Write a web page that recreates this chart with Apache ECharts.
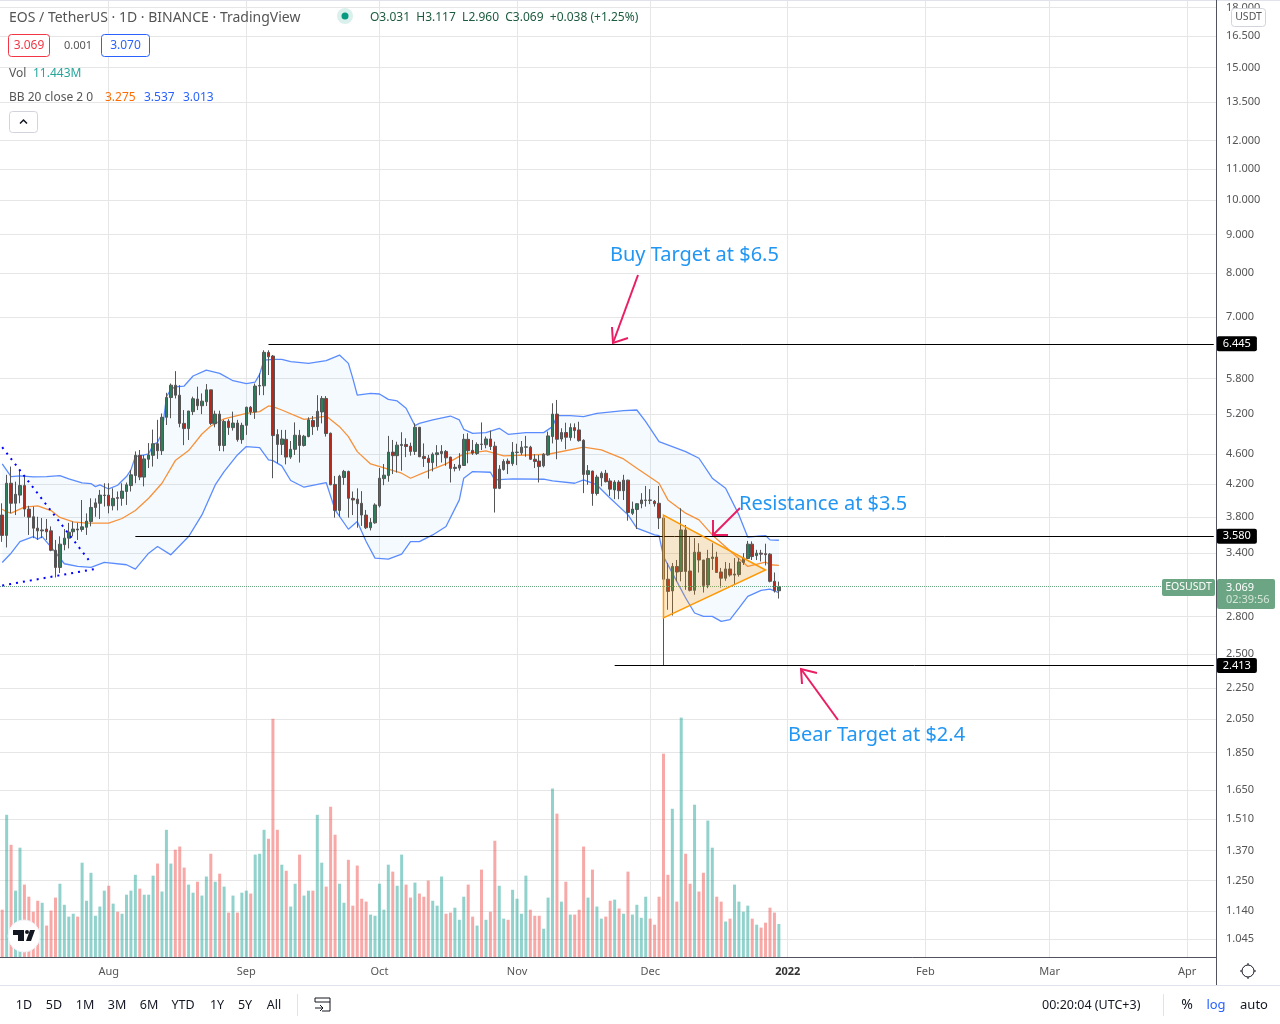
<!DOCTYPE html>
<html>
<head>
<meta charset="utf-8">
<title>EOS / TetherUS</title>
<style>
  html, body { margin: 0; padding: 0; background: #fff; }
  #main { width: 1280px; height: 1024px; }
</style>
<script src="https://cdn.jsdelivr.net/npm/echarts@6/dist/echarts.min.js"></script>
</head>
<body>
<div id="main"></div>
<script>
// candles, one per day from 2021-07-08
const opens = [3.82,3.59,4.21,3.96,4.06,4.18,3.89,3.80,3.67,3.64,
  3.66,3.64,3.43,3.255,3.49,3.56,3.63,3.66,3.655,3.68,
  3.745,3.91,3.96,4.055,4.06,3.93,4.03,4.02,4.105,4.18,
  4.31,4.585,4.29,4.53,4.585,4.75,4.65,5.15,5.47,5.68,
  5.51,5.055,4.975,5.24,5.445,5.335,5.40,5.60,5.05,5.20,
  4.725,5.09,4.99,5.06,4.81,5.025,5.31,5.235,5.665,5.67,
  6.28,6.21,4.885,4.74,4.815,4.56,4.67,4.875,4.725,4.855,
  5.10,5.005,5.235,5.455,4.905,4.195,3.875,4.285,4.365,4.02,
  4.01,3.96,3.82,3.675,3.73,3.93,4.27,4.31,4.63,4.58,
  4.725,4.74,4.715,4.64,4.995,4.57,4.545,4.485,4.595,4.61,
  4.64,4.56,4.405,4.41,4.445,4.815,4.655,4.61,4.745,4.735,
  4.82,4.715,4.145,4.39,4.505,4.47,4.625,4.62,4.70,4.70,
  4.53,4.505,4.44,4.59,4.855,5.20,4.82,4.915,4.84,4.99,
  4.955,4.80,4.325,4.37,4.08,4.28,4.34,4.24,4.125,4.225,
  4.115,4.25,3.84,3.885,3.955,3.995,4.00,3.985,3.96,3.785,
  3.14,3.03,3.265,3.215,3.65,3.22,3.035,3.41,3.33,3.085,
  3.345,3.36,3.21,3.15,3.24,3.18,3.185,3.305,3.345,3.495,
  3.375,3.40,3.395,3.39,3.12,3.031]
const closes = [3.59,4.21,3.96,4.07,4.18,3.89,3.795,3.67,3.64,3.65,
  3.63,3.43,3.255,3.495,3.56,3.625,3.66,3.65,3.685,3.75,
  3.91,3.965,4.06,4.06,3.93,4.02,4.02,4.11,4.19,4.32,
  4.585,4.29,4.535,4.59,4.75,4.65,5.15,5.47,5.68,5.51,
  5.055,4.975,5.25,5.45,5.335,5.41,5.60,5.055,5.20,4.725,
  5.085,4.99,5.06,4.81,5.025,5.31,5.235,5.665,5.675,6.28,
  6.195,4.87,4.74,4.82,4.56,4.67,4.875,4.725,4.86,5.11,
  5.005,5.245,5.455,4.90,4.19,3.875,4.30,4.365,4.02,4.00,
  3.955,3.82,3.675,3.735,3.94,4.275,4.315,4.63,4.58,4.73,
  4.74,4.71,4.64,4.995,4.565,4.54,4.485,4.60,4.62,4.64,
  4.55,4.405,4.42,4.45,4.815,4.65,4.615,4.74,4.74,4.82,
  4.71,4.145,4.395,4.50,4.47,4.63,4.63,4.70,4.705,4.53,
  4.50,4.43,4.60,4.865,5.20,4.815,4.915,4.845,4.99,4.945,
  4.795,4.325,4.375,4.08,4.29,4.34,4.23,4.135,4.225,4.115,
  4.25,3.85,3.89,3.955,4.00,4.00,3.995,3.955,3.785,3.14,
  3.025,3.265,3.21,3.65,3.215,3.035,3.41,3.33,3.08,3.345,
  3.36,3.205,3.15,3.24,3.18,3.19,3.31,3.35,3.495,3.365,
  3.40,3.39,3.385,3.12,3.031,3.069]
const highs = [3.96,4.32,4.43,4.23,4.37,4.30,3.93,3.92,3.80,3.785,
  3.775,3.69,3.54,3.58,3.66,3.73,3.745,3.73,4.00,3.84,
  4.02,4.02,4.125,4.21,4.21,4.145,4.105,4.21,4.22,4.385,
  4.64,4.66,4.59,4.76,4.96,5.11,5.21,5.55,5.71,5.93,
  5.68,5.265,5.25,5.485,5.655,5.54,5.70,5.60,5.255,5.255,
  5.11,5.12,5.24,5.11,5.065,5.32,5.33,5.71,5.89,6.32,
  6.32,6.23,4.965,4.955,4.955,4.79,5.07,4.955,4.88,5.15,
  5.17,5.51,5.495,5.495,4.915,4.305,4.32,4.385,4.375,4.105,
  4.145,4.11,3.88,3.785,3.96,4.41,4.465,4.865,4.805,4.78,
  4.92,4.83,4.765,5.055,5.00,4.755,4.59,4.625,4.73,4.73,
  4.66,4.565,4.465,4.615,4.895,4.905,4.805,4.77,5.07,4.855,
  4.945,4.78,4.45,4.53,4.54,4.775,4.75,4.79,4.865,4.72,
  4.60,4.59,4.615,4.93,5.375,5.43,4.98,5.065,5.055,5.055,
  5.08,4.815,4.45,4.375,4.32,4.365,4.385,4.275,4.25,4.25,
  4.32,4.255,3.98,3.96,4.085,4.175,4.135,4.00,4.175,3.785,
  3.30,3.30,3.33,3.90,3.705,3.58,3.56,3.505,3.33,3.435,
  3.505,3.415,3.25,3.31,3.30,3.35,3.35,3.40,3.53,3.525,
  3.435,3.435,3.50,3.40,3.205,3.117]
const lows = [3.52,3.46,3.84,3.82,3.96,3.80,3.595,3.56,3.54,3.56,
  3.54,3.42,3.157,3.20,3.43,3.45,3.58,3.54,3.63,3.595,
  3.69,3.80,3.775,3.92,3.84,3.875,3.875,3.93,3.94,4.105,
  4.21,4.25,4.17,4.41,4.43,4.535,4.59,5.03,5.135,5.455,
  4.995,4.73,4.805,5.185,5.265,5.20,5.33,5.03,4.995,4.645,
  4.64,4.88,4.945,4.78,4.75,4.88,5.185,5.125,5.51,5.51,
  5.86,4.275,4.475,4.59,4.46,4.535,4.59,4.485,4.71,4.845,
  4.88,4.945,5.055,4.855,4.185,3.79,3.80,4.19,3.79,3.82,
  3.675,3.695,3.66,3.645,3.72,3.91,4.185,4.23,4.33,4.35,
  4.375,4.56,4.58,4.59,4.56,4.425,4.27,4.365,4.43,4.485,
  4.44,4.22,4.365,4.375,4.44,4.475,4.59,4.59,4.66,4.685,
  4.66,3.85,4.135,4.375,4.33,4.44,4.45,4.59,4.565,4.52,
  4.41,4.22,4.42,4.58,4.755,4.53,4.78,4.67,4.795,4.83,
  4.78,4.085,4.19,3.93,4.055,4.17,4.22,4.05,4.01,4.01,
  4.00,3.755,3.82,3.66,3.90,3.92,3.95,3.92,3.66,2.413,
  2.86,2.81,3.12,3.12,3.04,3.025,2.995,3.205,3.015,3.055,
  3.23,3.20,3.06,3.125,3.165,3.085,3.165,3.28,3.34,3.33,
  3.33,3.315,3.275,3.11,3.015,2.96]

// volume in millions
const volumes = [16.4,49.3,38.9,23.0,37.9,25.1,20.9,15.7,19.5,18.8,
  10.9,16.1,20.6,25.4,18.1,14.0,15.0,14.0,32.7,19.5,
  29.2,14.3,17.5,23.0,24.7,18.5,15.7,15.0,21.6,23.0,
  28.5,23.7,21.6,21.6,28.2,32.4,22.7,44.1,32.4,37.2,
  38.3,31.0,25.1,22.3,26.1,21.3,27.9,35.8,26.1,28.9,
  24.4,15.4,21.3,15.4,22.3,23.0,22.0,35.5,35.8,44.1,
  41.0,82.6,44.1,32.0,29.9,17.5,25.4,35.5,21.3,23.0,
  23.0,49.3,32.7,24.4,52.1,42.4,25.4,18.8,33.7,17.8,
  31.7,20.2,19.2,14.7,14.3,25.4,16.4,32.0,29.6,24.7,
  35.5,25.1,20.6,25.8,22.0,20.9,26.5,19.5,17.8,27.9,
  15.0,15.4,17.1,12.9,20.9,25.1,14.0,10.9,30.3,12.9,
  15.7,40.3,24.7,13.3,12.9,23.3,20.2,15.0,28.2,16.4,
  14.3,14.3,9.8,20.6,58.4,49.7,19.2,26.1,14.7,14.7,
  16.4,38.3,20.6,30.3,17.5,13.3,14.0,19.5,19.9,16.8,
  15.0,29.6,14.7,18.1,13.6,20.9,13.3,11.2,20.9,70.5,
  28.5,51.4,19.2,83.0,35.8,25.4,52.8,22.7,29.2,47.3,
  37.9,20.9,19.2,12.3,13.3,25.1,19.2,15.7,17.8,13.3,
  11.2,10.2,11.9,17.1,15.4,11.443]

// bollinger bands, read at these day indexes
const upperDays = [0,2,4,7,10,13,15,18,20,21,22,24,26,28,29,30,32,33,34,35,36,37,38,39,41,43,46,49,52,55,57,58,59,61,63,65,69,73,76,78,79,80,83,85,87,89,91,93,94,97,101,103,104,106,109,112,114,118,122,124,125,128,131,134,140,143,145,148,151,154,157,160,163,166,168,171,172,173,175]
const upperBand = [4.466,4.297,4.306,4.293,4.297,4.31,4.266,4.214,4.206,4.167,4.188,4.137,4.184,4.297,4.385,4.567,4.59,4.605,4.733,4.771,4.904,5.484,5.608,5.654,5.666,5.842,5.949,5.889,5.759,5.706,5.736,5.871,6.134,6.146,6.146,6.103,6.072,6.122,6.228,6.072,5.80,5.512,5.541,5.53,5.44,5.413,5.293,5.02,5.056,5.108,5.17,5.108,4.964,4.904,4.914,4.98,4.889,4.914,4.914,5.005,5.176,5.176,5.16,5.213,5.255,5.266,5.082,4.781,4.709,4.637,4.544,4.275,4.146,3.822,3.57,3.584,3.588,3.541,3.537]
const lowerDays = [0,2,4,7,8,9,11,12,14,17,20,23,28,30,33,35,38,42,45,48,50,53,55,58,60,61,63,65,68,73,75,78,80,82,84,87,90,92,94,97,100,103,104,106,110,111,115,122,124,129,131,134,137,141,143,147,148,149,151,154,156,158,160,162,164,166,168,171,173,175]
const lowerBand = [3.305,3.40,3.523,3.577,3.548,3.577,3.463,3.407,3.292,3.265,3.255,3.305,3.282,3.239,3.40,3.47,3.383,3.577,3.822,4.188,4.363,4.59,4.709,4.695,4.521,4.512,4.439,4.245,4.159,4.219,3.881,3.658,3.745,3.523,3.349,3.339,3.39,3.523,3.523,3.595,3.688,4.001,4.275,4.363,4.354,4.253,4.266,4.262,4.24,4.21,4.253,4.188,4.022,3.822,3.67,3.595,3.588,3.366,3.199,2.965,2.832,2.803,2.803,2.76,2.775,2.875,2.98,3.035,3.047,3.013]
const basisDays = [0,1,2,5,8,11,13,16,19,24,27,30,33,36,39,42,45,47,50,55,58,60,61,63,68,73,76,78,80,83,90,92,95,100,104,109,113,123,131,135,140,143,148,150,154,157,160,165,168,172,173,175]
const basisBand = [3.889,3.858,3.842,3.913,3.929,3.873,3.792,3.741,3.726,3.726,3.78,3.873,4.022,4.21,4.512,4.652,4.894,5.015,5.124,5.213,5.24,5.331,5.32,5.266,5.118,5.17,5.005,4.854,4.637,4.466,4.341,4.275,4.35,4.466,4.605,4.647,4.576,4.6,4.70,4.661,4.535,4.407,4.21,4.001,3.842,3.764,3.595,3.383,3.265,3.309,3.282,3.275]

// price axis labels and month labels
const priceTicks = [18,16.5,15,13.5,12,11,10,9,8,7,5.8,5.2,4.6,4.2,3.8,3.4,2.8,2.5,2.25,2.05,1.85,1.65,1.51,1.37,1.25,1.14,1.045]
const tickDates = ['2021-08-01','2021-09-01','2021-10-01','2021-11-01','2021-12-01','2022-01-01','2022-02-01','2022-03-01','2022-04-01']
const tickLabels = ['Aug','Sep','Oct','Nov','Dec','2022','Feb','Mar','Apr']

// drawings on the chart
const triangleDays = [149,172,149]
const trianglePrices = [3.82,3.23,2.79]
const trendDown = [[0,4.70],[20,3.30]]
const trendUp = [[0,3.08],[21,3.24]]
const levels = [[60,6.445],[30,3.58],[138,2.413]]
const lastClose = 3.069

const DAY_COUNT = 274
const categories = []
for (let i = 0; i < DAY_COUNT; i++) {
  categories.push(new Date(Date.UTC(2021, 6, 8 + i)).toISOString().slice(0, 10))
}
const isMonthTick = function(index, value) {
  return tickDates.indexOf(value) !== -1
}

const FONT = '"Noto Sans"'
const text = function(x, y, str, fill, size, align, weight) {
  return {
    type: 'text', z: 50, silent: true,
    style: { x: x, y: y, text: str, fill: fill, align: align || 'left', verticalAlign: 'middle',
      font: (weight || 'normal') + ' ' + size + 'px ' + FONT }
  }
}
const box = function(x, y, w, h, fill, stroke, r) {
  return {
    type: 'rect', z: 49, silent: true,
    shape: { x: x, y: y, width: w, height: h, r: r || 0 },
    style: { fill: fill, stroke: stroke || null, lineWidth: 1 }
  }
}
const stroke = function(points, color, width) {
  return {
    type: 'polyline', z: 49, silent: true,
    shape: { points: points },
    style: { stroke: color, lineWidth: width || 1, fill: null }
  }
}

const BLUE = '#2196f3'
const PINK = '#e91e63'
const graphics = [
  box(0, 0, 1280, 1, '#e0e3eb'),
  // header
  text(9, 18, 'EOS / TetherUS · 1D · BINANCE · TradingView', '#555', 14),
  { type: 'circle', z: 49, silent: true, shape: { cx: 345, cy: 16, r: 8 }, style: { fill: 'rgba(8,153,129,.15)' } },
  { type: 'circle', z: 50, silent: true, shape: { cx: 345, cy: 16, r: 3.5 }, style: { fill: '#089981' } },
  text(370, 18, 'O3.031  H3.117  L2.960  C3.069  +0.038 (+1.25%)', '#1c5b3e', 12),
  box(8.5, 34.5, 41, 22, '#fff', '#f23645', 3),
  text(29, 45.5, '3.069', '#f23645', 12, 'center'),
  text(78, 45.5, '0.001', '#555', 11, 'center'),
  box(101.5, 34.5, 48, 22, '#fff', '#2962ff', 3),
  text(125.5, 45.5, '3.070', '#2962ff', 12, 'center'),
  text(9, 74, 'Vol', '#555', 12),
  text(33, 74, '11.443M', '#26a69a', 12),
  text(9, 98, 'BB 20 close 2 0', '#555', 12),
  text(105, 98, '3.275', '#ff6d00', 12),
  text(144, 98, '3.537', '#2962ff', 12),
  text(183, 98, '3.013', '#2962ff', 12),
  box(9.5, 111.5, 28, 21, '#fff', '#d1d4dc', 3),
  stroke([[20, 123.5], [23.5, 120], [27, 123.5]], '#131722', 1.5),
  // price axis extras
  box(1231.5, 8.5, 34, 18, '#fff', '#d1d4dc', 3),
  text(1248.5, 17.5, 'USDT', '#555', 10.5, 'center'),
  box(1162, 579, 53, 17, '#6ba583', null, 2),
  text(1188.5, 587.5, 'EOSUSDT', '#fff', 10.5, 'center'),
  box(1217, 579, 58, 30, '#6ba583', null, 2),
  text(1226, 587.5, '3.069', '#fff', 11),
  text(1226, 600, '02:39:56', '#d5e6da', 11),
  // annotations
  text(610, 255, 'Buy Target at $6.5', BLUE, 20),
  text(739, 504, 'Resistance at $3.5', BLUE, 20),
  text(788, 735, 'Bear Target at $2.4', BLUE, 20),
  stroke([[638, 275], [613, 343]], PINK, 2),
  stroke([[612, 327], [613, 343], [628, 338]], PINK, 2),
  stroke([[740, 508], [713, 535]], PINK, 2),
  stroke([[713, 520], [713, 535], [728, 535]], PINK, 2),
  stroke([[838, 720], [801, 669]], PINK, 2),
  stroke([[802, 684], [801, 669], [817, 673]], PINK, 2),
  // tradingview badge
  { type: 'circle', z: 49, silent: true, shape: { cx: 24, cy: 936, r: 16 }, style: { fill: '#fff', stroke: '#f0f3fa' } },
  { type: 'polygon', z: 50, silent: true, shape: { points: [[13, 930], [24, 930], [24, 941], [18, 941], [18, 935], [13, 935]] }, style: { fill: '#131722' } },
  { type: 'circle', z: 50, silent: true, shape: { cx: 27, cy: 932, r: 2 }, style: { fill: '#131722' } },
  { type: 'polygon', z: 50, silent: true, shape: { points: [[30, 930], [35, 930], [31, 941], [26, 941]] }, style: { fill: '#131722' } },
  // bottom bar
  box(0, 985, 1280, 1, '#e0e3eb'),
  box(1216, 0, 1, 985, '#50535e'),
  box(297, 994, 1, 22, '#e0e3eb'),
  box(1163, 994, 1, 22, '#e0e3eb'),
  text(24, 1005, '1D', '#131722', 12.5, 'center'),
  text(54, 1005, '5D', '#131722', 12.5, 'center'),
  text(85, 1005, '1M', '#131722', 12.5, 'center'),
  text(117, 1005, '3M', '#131722', 12.5, 'center'),
  text(149, 1005, '6M', '#131722', 12.5, 'center'),
  text(183, 1005, 'YTD', '#131722', 12.5, 'center'),
  text(217, 1005, '1Y', '#131722', 12.5, 'center'),
  text(245, 1005, '5Y', '#131722', 12.5, 'center'),
  text(274, 1005, 'All', '#131722', 12.5, 'center'),
  stroke([[315, 1002], [315, 998], [330, 998], [330, 1011], [322, 1011]], '#131722', 1),
  stroke([[315, 1002], [330, 1002]], '#131722', 1),
  stroke([[315, 1008], [322, 1008]], '#131722', 1),
  stroke([[320, 1005], [323, 1008], [320, 1011]], '#131722', 1),
  text(1042, 1005, '00:20:04 (UTC+3)', '#131722', 12.5),
  text(1187, 1005, '%', '#131722', 14, 'center'),
  text(1216, 1005, 'log', '#2962ff', 13, 'center'),
  text(1254, 1005, 'auto', '#131722', 13, 'center'),
  { type: 'circle', z: 49, silent: true, shape: { cx: 1248, cy: 971, r: 6 }, style: { fill: '#fff', stroke: '#131722', lineWidth: 1 } },
  stroke([[1248, 963], [1248, 965]], '#131722', 1),
  stroke([[1248, 977], [1248, 979]], '#131722', 1),
  stroke([[1240, 971], [1242, 971]], '#131722', 1),
  stroke([[1254, 971], [1256, 971]], '#131722', 1)
]

const candleData = opens.map(function(o, i) {
  return [o, closes[i], lows[i], highs[i]]
})
const volumeData = volumes.map(function(v, i) {
  return {
    value: v,
    itemStyle: { color: closes[i] >= opens[i] ? 'rgba(38,166,154,.5)' : 'rgba(239,83,80,.5)' }
  }
})
const pairs = function(days, values) {
  return days.map(function(d, i) { return [categories[d], values[i]] })
}
const bandLine = function(name, days, values, color) {
  return {
    name: name, type: 'line', data: pairs(days, values), symbol: 'none', z: 3,
    lineStyle: { color: color, width: 1.3 }
  }
}
const levelLine = function(level) {
  return [
    { xAxis: categories[level[0]], yAxis: level[1] },
    {
      xAxis: categories[DAY_COUNT - 1], yAxis: level[1],
      label: {
        show: true, position: 'end', distance: 3, formatter: level[1].toFixed(3),
        color: '#fff', backgroundColor: '#000', padding: [2, 6, 2, 6], borderRadius: 2,
        fontFamily: FONT, fontSize: 11
      }
    }
  ]
}

const myChart = echarts.init(document.getElementById('main'))
myChart.setOption({
  animation: false,
  backgroundColor: '#fff',
  graphic: { elements: graphics },
  grid: { left: 0, top: 0, width: 1216, height: 957, containLabel: false },
  xAxis: [{
    type: 'category',
    data: categories,
    axisLine: { show: true, lineStyle: { color: '#50535e' } },
    axisTick: { show: false },
    axisLabel: {
      interval: isMonthTick,
      margin: 9,
      color: '#555',
      fontFamily: FONT,
      fontSize: 11,
      formatter: function(value) {
        const label = tickLabels[tickDates.indexOf(value)]
        return label === '2022' ? '{year|2022}' : label
      },
      rich: { year: { color: '#333', fontWeight: 'bold', fontFamily: FONT, fontSize: 11 } }
    },
    splitLine: { show: true, interval: isMonthTick, alignWithLabel: true, lineStyle: { color: '#e6e6e6' } }
  }],
  yAxis: [{
    type: 'log',
    logBase: 10,
    position: 'right',
    min: 0.99,
    max: 18.43,
    axisLine: { show: false },
    axisTick: { show: false, customValues: priceTicks },
    axisLabel: {
      customValues: priceTicks,
      margin: 10,
      color: '#555',
      fontFamily: FONT,
      fontSize: 11,
      formatter: function(value) { return value.toFixed(3) }
    },
    splitLine: { show: true, lineStyle: { color: '#e6e6e6' } }
  }, {
    type: 'value',
    show: false,
    min: 0,
    max: 331.8,
    splitLine: { show: false }
  }],
  series: [{
    name: 'BB fill',
    type: 'custom',
    z: 1,
    silent: true,
    data: [[categories[0], 3]],
    renderItem: function(params, api) {
      const points = []
      upperDays.forEach(function(d, i) { points.push(api.coord([d, upperBand[i]])) })
      for (let i = lowerDays.length - 1; i >= 0; i--) {
        points.push(api.coord([lowerDays[i], lowerBand[i]]))
      }
      return { type: 'polygon', shape: { points: points }, style: { fill: 'rgba(33,150,243,.05)' } }
    }
  }, {
    name: 'Vol',
    type: 'bar',
    yAxisIndex: 1,
    barWidth: 3,
    z: 2,
    data: volumeData
  },
  bandLine('BB upper', upperDays, upperBand, '#5b8cff'),
  bandLine('BB lower', lowerDays, lowerBand, '#5b8cff'),
  bandLine('BB basis', basisDays, basisBand, '#f7913a'),
  {
    name: 'EOSUSDT',
    type: 'candlestick',
    barWidth: 3,
    z: 4,
    data: candleData,
    itemStyle: { color: '#2e7d5b', color0: '#b5281c', borderColor: '#555', borderColor0: '#555', borderWidth: 1 },
    markLine: {
      silent: true,
      symbol: 'none',
      animation: false,
      lineStyle: { color: '#000', width: 1, type: 'solid' },
      label: { show: false },
      data: levels.map(levelLine).concat([
        { yAxis: lastClose, lineStyle: { color: '#6ba583', type: 'dotted', width: 1 } }
      ])
    }
  }, {
    name: 'Triangle',
    type: 'custom',
    z: 5,
    silent: true,
    data: [[categories[149], 3]],
    renderItem: function(params, api) {
      const points = triangleDays.map(function(d, i) { return api.coord([d, trianglePrices[i]]) })
      return {
        type: 'polygon', shape: { points: points },
        style: { fill: 'rgba(255,152,0,.2)', stroke: '#ff9800', lineWidth: 1.5 }
      }
    }
  }, {
    name: 'Trend down',
    type: 'line',
    z: 5,
    symbol: 'none',
    data: trendDown.map(function(p) { return [categories[p[0]], p[1]] }),
    lineStyle: { color: '#0000ff', width: 2, type: [2, 5] }
  }, {
    name: 'Trend up',
    type: 'line',
    z: 5,
    symbol: 'none',
    data: trendUp.map(function(p) { return [categories[p[0]], p[1]] }),
    lineStyle: { color: '#0000ff', width: 2, type: [2, 5] }
  }]
})
</script>
</body>
</html>
